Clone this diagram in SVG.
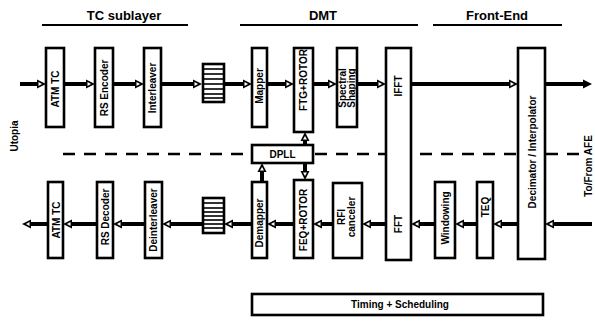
<svg xmlns="http://www.w3.org/2000/svg" width="595" height="327" viewBox="0 0 595 327">
<style>
.box{fill:#fff;stroke:#000;stroke-width:2.6}
.lbl{font-family:"Liberation Sans",Arial,sans-serif;font-weight:bold;font-size:10px;fill:#000;text-anchor:middle}
.hdr{font-family:"Liberation Sans",Arial,sans-serif;font-weight:bold;font-size:13px;fill:#000;text-anchor:middle}
.flow{fill:none;stroke:#000;stroke-width:4}
.hl{stroke:#000;stroke-width:2}
.rung{stroke:#000;stroke-width:1.6}
</style>
<defs>
<marker id="ah" markerUnits="userSpaceOnUse" markerWidth="10" markerHeight="10" refX="0" refY="5" orient="auto">
<path d="M0,0.5 L9,5 L0,9.5 z" fill="#000"/>
<path d="M1.5,3 L5,5 L1.5,7 z" fill="#fff"/>
</marker>
<marker id="ahs" markerUnits="userSpaceOnUse" markerWidth="10" markerHeight="10" refX="0" refY="5" orient="auto">
<path d="M0,0.5 L9,5 L0,9.5 z" fill="#000"/>
</marker>
</defs>
<rect width="595" height="327" fill="#fff"/>

<g id="headers">
<text class="hdr" x="124" y="19.5">TC sublayer</text>
<line class="hl" x1="42" y1="25" x2="188" y2="25"/>
<text class="hdr" x="323" y="19.5">DMT</text>
<line class="hl" x1="240" y1="25" x2="418" y2="25"/>
<text class="hdr" x="497" y="19.5">Front-End</text>
<line class="hl" x1="433" y1="25" x2="562" y2="25"/>
</g>

<g id="dashed">
<line x1="63" y1="154" x2="582" y2="154" stroke="#000" stroke-width="2.5" stroke-dasharray="12,9"/>
</g>

<g id="connectors">
<line class="flow" x1="20" y1="84" x2="37" y2="84" marker-end="url(#ah)"/>
<line class="flow" x1="64" y1="84" x2="86" y2="84" marker-end="url(#ah)"/>
<line class="flow" x1="113" y1="84" x2="135" y2="84" marker-end="url(#ah)"/>
<line class="flow" x1="161" y1="84" x2="193" y2="84" marker-end="url(#ah)"/>
<line class="flow" x1="224" y1="84" x2="243" y2="84" marker-end="url(#ah)"/>
<line class="flow" x1="267" y1="84" x2="285" y2="84" marker-end="url(#ah)"/>
<line class="flow" x1="313" y1="84" x2="328" y2="84" marker-end="url(#ah)"/>
<line class="flow" x1="357" y1="84" x2="377" y2="84" marker-end="url(#ah)"/>
<line class="flow" x1="411" y1="84" x2="509" y2="84" marker-end="url(#ah)"/>
<line class="flow" x1="545" y1="84" x2="583" y2="84" marker-end="url(#ahs)"/>
<line class="flow" x1="592" y1="224" x2="554" y2="224" marker-end="url(#ah)"/>
<line class="flow" x1="518" y1="224" x2="502" y2="224" marker-end="url(#ah)"/>
<line class="flow" x1="477" y1="224" x2="464" y2="224" marker-end="url(#ah)"/>
<line class="flow" x1="435" y1="224" x2="420" y2="224" marker-end="url(#ah)"/>
<line class="flow" x1="386" y1="224" x2="371" y2="224" marker-end="url(#ah)"/>
<line class="flow" x1="333" y1="224" x2="322" y2="224" marker-end="url(#ah)"/>
<line class="flow" x1="294" y1="224" x2="276" y2="224" marker-end="url(#ah)"/>
<line class="flow" x1="252" y1="224" x2="233" y2="224" marker-end="url(#ah)"/>
<line class="flow" x1="202" y1="224" x2="171" y2="224" marker-end="url(#ah)"/>
<line class="flow" x1="145" y1="224" x2="122" y2="224" marker-end="url(#ah)"/>
<line class="flow" x1="97" y1="224" x2="72" y2="224" marker-end="url(#ah)"/>
<line class="flow" x1="48" y1="224" x2="31" y2="224" marker-end="url(#ah)"/>
<line class="flow" x1="262" y1="182" x2="262" y2="172" marker-end="url(#ah)"/>
<line class="flow" x1="305" y1="145" x2="305" y2="141" marker-end="url(#ah)"/>
<line class="flow" x1="305" y1="163" x2="305" y2="171" marker-end="url(#ah)"/>
</g>

<g id="atm-tc-tx"><rect class="box" x="46" y="48" width="18" height="79"/><text class="lbl" font-size="11" transform="translate(59,89) rotate(-90)">ATM TC</text></g>
<g id="rs-encoder"><rect class="box" x="95" y="48" width="18" height="79"/><text class="lbl" transform="translate(107.5,88) rotate(-90)">RS Encoder</text></g>
<g id="interleaver"><rect class="box" x="144" y="48" width="17" height="79"/><text class="lbl" transform="translate(156,88) rotate(-90)">Interleaver</text></g>
<g id="buffer-tx">
<rect class="box" x="203" y="64" width="21" height="38"/>
<line class="rung" x1="203" y1="69" x2="224" y2="69"/><line class="rung" x1="203" y1="74" x2="224" y2="74"/><line class="rung" x1="203" y1="79" x2="224" y2="79"/><line class="rung" x1="203" y1="84" x2="224" y2="84"/><line class="rung" x1="203" y1="89" x2="224" y2="89"/><line class="rung" x1="203" y1="94" x2="224" y2="94"/><line class="rung" x1="203" y1="98" x2="224" y2="98"/>
</g>
<g id="mapper"><rect class="box" x="252" y="48" width="15" height="79"/><text class="lbl" transform="translate(263,86) rotate(-90)">Mapper</text></g>
<g id="ftg-rotor"><rect class="box" x="294" y="48" width="19" height="84"/><text class="lbl" transform="translate(307,80) rotate(-90)">FTG+ROTOR</text></g>
<g id="spectral-shaping"><rect class="box" x="337" y="48" width="20" height="79"/><text class="lbl" font-size="9" transform="translate(346,88) rotate(-90)">Spectral</text><text class="lbl" font-size="9" transform="translate(354.5,88) rotate(-90)">Shaping</text></g>
<g id="ifft-fft"><rect class="box" x="386" y="48" width="25" height="212"/><text class="lbl" transform="translate(402,86) rotate(-90)">IFFT</text><text class="lbl" transform="translate(402,224) rotate(-90)">FFT</text></g>
<g id="decimator"><rect class="box" x="518" y="48" width="27" height="211"/><text class="lbl" font-size="11" transform="translate(535.5,152) rotate(-90)">Decimator / Interpolator</text></g>

<g id="dpll"><rect class="box" x="252" y="145" width="61" height="18"/><text class="lbl" font-size="11" x="282.5" y="158">DPLL</text></g>

<g id="atm-tc-rx"><rect class="box" x="48" y="182" width="15" height="76"/><text class="lbl" font-size="11" transform="translate(59.5,220) rotate(-90)">ATM TC</text></g>
<g id="rs-decoder"><rect class="box" x="97" y="182" width="16" height="76"/><text class="lbl" transform="translate(108.5,217) rotate(-90)">RS Decoder</text></g>
<g id="deinterleaver"><rect class="box" x="145" y="182" width="17" height="76"/><text class="lbl" transform="translate(157,220) rotate(-90)">Deinterleaver</text></g>
<g id="buffer-rx">
<rect class="box" x="203" y="198" width="21" height="35"/>
<line class="rung" x1="203" y1="203" x2="224" y2="203"/><line class="rung" x1="203" y1="208" x2="224" y2="208"/><line class="rung" x1="203" y1="212" x2="224" y2="212"/><line class="rung" x1="203" y1="216" x2="224" y2="216"/><line class="rung" x1="203" y1="220" x2="224" y2="220"/><line class="rung" x1="203" y1="224" x2="224" y2="224"/><line class="rung" x1="203" y1="228" x2="224" y2="228"/>
</g>
<g id="demapper"><rect class="box" x="252" y="182" width="15" height="76"/><text class="lbl" transform="translate(263,223) rotate(-90)">Demapper</text></g>
<g id="feq-rotor"><rect class="box" x="294" y="180" width="19" height="78"/><text class="lbl" transform="translate(307,220) rotate(-90)">FEQ+ROTOR</text></g>
<g id="rfi-canceler"><rect class="box" x="333" y="183" width="29" height="75"/><text class="lbl" transform="translate(345,217) rotate(-90)">RFI</text><text class="lbl" transform="translate(355,217) rotate(-90)">canceler</text></g>
<g id="windowing"><rect class="box" x="435" y="182" width="20" height="76"/><text class="lbl" transform="translate(448.5,218) rotate(-90)">Windowing</text></g>
<g id="teq"><rect class="box" x="477" y="182" width="16" height="76"/><text class="lbl" transform="translate(488.5,207) rotate(-90)">TEQ</text></g>

<g id="timing"><rect class="box" x="252" y="294" width="291" height="21"/><text class="lbl" font-size="11" x="400" y="308">Timing + Scheduling</text></g>

<g id="side-labels">
<text class="lbl" font-size="11" transform="translate(18,136) rotate(-90)">Utopia</text>
<text class="lbl" font-size="11" transform="translate(592,166) rotate(-90)">To/From AFE</text>
</g>
</svg>
